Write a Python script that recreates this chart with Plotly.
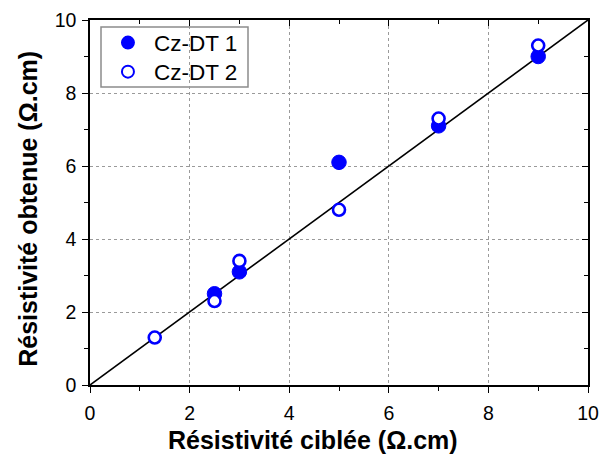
import plotly.graph_objects as go

x_dt1 = [2.5, 3, 5, 7, 9]
y_dt1 = [2.5, 3.1, 6.1, 7.1, 9.0]
x_dt2 = [1.3, 2.5, 3, 5, 7, 9]
y_dt2 = [1.3, 2.3, 3.4, 4.8, 7.3, 9.3]
line_x = [0, 10]
line_y = [0, 10]
tick_vals = [0, 2, 4, 6, 8, 10]
x_title = "Résistivité ciblée (Ω.cm)"
y_title = "Résistivité obtenue (Ω.cm)"

fig = go.Figure()
fig.add_trace(go.Scatter(x=line_x, y=line_y, mode="lines",
                         line=dict(color="black", width=1.6), showlegend=False, hoverinfo="skip"))
fig.add_trace(go.Scatter(x=x_dt1, y=y_dt1, mode="markers", name="Cz-DT 1", legend="legend",
                         marker=dict(symbol="circle", size=14.5, color="#0000ff",
                                     line=dict(color="#0000ff", width=1))))
fig.add_trace(go.Scatter(x=x_dt2, y=y_dt2, mode="markers", name="Cz-DT 2", legend="legend2",
                         marker=dict(symbol="circle", size=12, color="white",
                                     line=dict(color="#0000ff", width=2.6))))
# invisible trace for the mirrored axes
fig.add_trace(go.Scatter(x=[0], y=[0], xaxis="x2", yaxis="y2", mode="markers",
                         marker=dict(opacity=0), showlegend=False, hoverinfo="skip"))

font = "Arial, Liberation Sans, sans-serif"
common = dict(range=[0, 10], tickvals=tick_vals, showline=True, linecolor="black",
              linewidth=1.5, zeroline=False, automargin=False)
leg_common = dict(xanchor="left", yanchor="middle", bgcolor="rgba(0,0,0,0)",
                  borderwidth=0, font=dict(size=22.5), itemsizing="constant", itemwidth=42)
fig.update_layout(
    width=600, height=459,
    margin=dict(l=90, r=12, t=20, b=74),
    paper_bgcolor="white", plot_bgcolor="white",
    font=dict(family=font, color="black", size=19.5),
    xaxis=dict(**common, ticks="outside", ticklen=6, tickwidth=1.2, tickcolor="black",
               showgrid=True, gridcolor="#9a9a9a", griddash="dot", gridwidth=1,
               minor=dict(dtick=1, ticks="outside", ticklen=4, tickcolor="black", showgrid=False),
               tickfont=dict(size=19.5), ticklabelstandoff=4),
    yaxis=dict(**common, ticks="outside", ticklen=6, tickwidth=1.2, tickcolor="black",
               showgrid=True, gridcolor="#9a9a9a", griddash="dot", gridwidth=1,
               minor=dict(dtick=1, ticks="outside", ticklen=4, tickcolor="black", showgrid=False),
               tickfont=dict(size=19.5), ticklabelstandoff=2),
    xaxis2=dict(**common, overlaying="x", side="top", anchor="y2", ticks="inside", ticklen=6,
                tickwidth=1.2, tickcolor="black", showticklabels=False, showgrid=False,
                minor=dict(dtick=1, ticks="inside", ticklen=4, tickcolor="black")),
    yaxis2=dict(**common, overlaying="y", side="right", anchor="x2", ticks="inside", ticklen=6,
                tickwidth=1.2, tickcolor="black", showticklabels=False, showgrid=False,
                minor=dict(dtick=1, ticks="inside", ticklen=4, tickcolor="black")),
    legend=dict(x=0.024, y=0.937, **leg_common),
    legend2=dict(x=0.024, y=0.8575, **leg_common),
    shapes=[dict(type="rect", xref="paper", yref="paper",
                 x0=(101 - 90) / 498, x1=(248 - 90) / 498,
                 y0=(385 - 87) / 365, y1=(385 - 27) / 365,
                 line=dict(color="#8c8c8c", width=1.5), fillcolor="white", layer="below")],
    annotations=[
        dict(text="<b>" + x_title + "</b>", xref="paper", yref="paper",
             x=0.447, y=-0.151, xanchor="center", yanchor="middle", showarrow=False,
             font=dict(size=25)),
        dict(text="<b>" + y_title + "</b>", xref="paper", yref="paper",
             x=-0.125, y=0.482, xanchor="center", yanchor="middle", showarrow=False,
             textangle=-90, font=dict(size=25)),
    ],
)
fig.write_html("out.html", config={"displayModeBar": False},
               post_script="document.body.style.margin='0px';")
